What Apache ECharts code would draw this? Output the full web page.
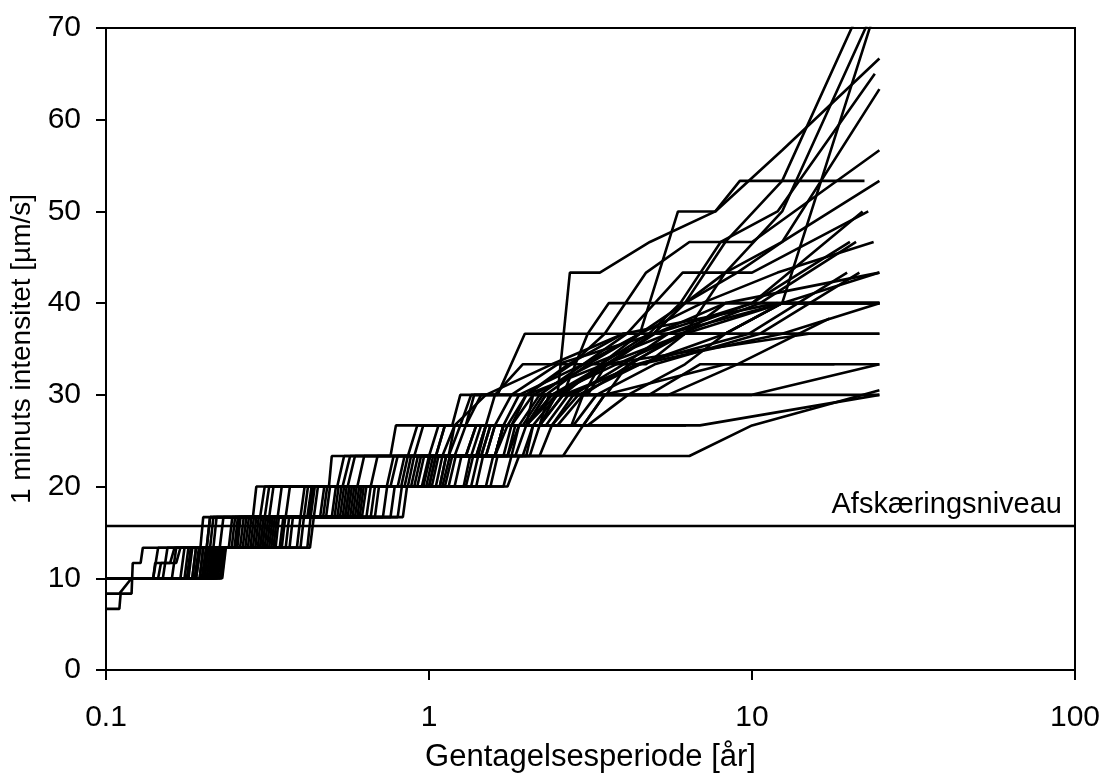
<!DOCTYPE html>
<html>
<head>
<meta charset="utf-8">
<script src="https://cdn.jsdelivr.net/npm/echarts@6/dist/echarts.min.js"></script>
<style>
html,body{margin:0;padding:0;background:#fff;}
#chart{width:1104px;height:774px;}
</style>
</head>
<body>
<div id="chart"></div>
<script>
// Return period [years] vs 1-minute intensity [µm/s], one array per station: [T, intensity]
const station01 = [[0.1,6.67],[0.11,6.67],[0.111,8.33],[0.12,8.33],[0.121,11.67],[0.128,11.67],[0.13,13.33],[0.196,13.33],[0.2,16.67],[0.285,16.67],[0.292,20],[0.49,20],[0.5,23.33],[0.76,23.33],[0.79,26.67],[6.25,26.67]];
const station02 = [[0.1,8.33],[0.11,8.33],[0.12,10],[0.14,10],[0.145,13.33],[0.205,13.33],[0.21,16.67],[0.31,16.67],[0.32,20],[0.54,20],[0.57,23.33],[1.05,23.33],[1.12,26.67],[2.2,26.67],[2.35,30],[4.8,30],[6.9,33.33],[18,33.33]];
const station03 = [[0.1,10],[0.2,10],[0.206,13.33],[0.3,13.33],[0.308,16.67],[0.55,16.67],[0.567,20],[1.15,20],[1.21,23.33],[1.75,23.33],[1.85,26.67],[2.2,26.67],[2.48,30],[3.1,30],[3.54,33.33],[4.96,36.67],[6.2,40],[8.27,46.67],[12.4,53.33],[24.8,76.67]];
const station04 = [[0.1,10],[0.19,10],[0.196,13.33],[0.28,13.33],[0.287,16.67],[0.5,16.67],[0.515,20],[1.02,20],[1.07,23.33],[1.6,23.33],[1.7,26.67],[1.95,26.67],[2.25,30],[3.54,30],[4.13,33.33],[6.2,36.67],[8.27,43.33],[12.4,50],[24.8,73.33]];
const station05 = [[0.1,10],[0.175,10],[0.18,13.33],[0.25,13.33],[0.256,16.67],[0.42,16.67],[0.433,20],[0.88,20],[0.924,23.33],[1.45,23.33],[1.55,26.67],[3.1,26.67],[4.13,30],[6.2,33.33],[8.27,36.67],[12.4,40],[24.8,73.33]];
const station06 = [[0.1,10],[0.215,10],[0.221,13.33],[0.33,13.33],[0.338,16.67],[0.6,16.67],[0.618,20],[1.3,20],[1.37,23.33],[1.6,23.33],[1.7,26.67],[2.0,26.67],[2.1,30],[2.5,30],[2.73,43.33],[3.38,43.33],[4.83,46.67],[7.7,50],[12.4,56.67],[24.8,66.67]];
const station07 = [[0.1,10],[0.222,10],[0.228,13.33],[0.37,13.33],[0.379,16.67],[0.68,16.67],[0.7,20],[1.4,20],[1.47,23.33],[2.0,23.33],[2.1,26.67],[2.76,26.67],[3.0,30],[3.4,33.33],[4.5,36.67],[5.9,50],[7.7,50],[9.17,53.33],[22.3,53.33]];
const station08 = [[0.1,10],[0.205,10],[0.211,13.33],[0.31,13.33],[0.318,16.67],[0.56,16.67],[0.577,20],[1.1,20],[1.16,23.33],[1.6,23.33],[1.75,26.67],[2.2,26.67],[2.6,30],[3.4,33.33],[4.8,36.67],[6.0,40],[8.0,46.67],[12.0,50],[24.0,65]];
const station09 = [[0.1,10],[0.21,10],[0.216,13.33],[0.32,13.33],[0.328,16.67],[0.58,16.67],[0.597,20],[1.0,20],[1.05,23.33],[1.4,23.33],[1.5,26.67],[2.0,26.67],[2.48,30],[3.54,33.33],[4.96,36.67],[6.2,40],[8.27,43.33],[12.4,46.67],[24.8,63.33]];
const station10 = [[0.1,10],[0.2,10],[0.206,13.33],[0.295,13.33],[0.302,16.67],[0.53,16.67],[0.546,20],[0.95,20],[1.0,23.33],[1.3,23.33],[1.4,26.67],[1.8,26.67],[2.0,30],[2.76,33.33],[3.5,36.67],[4.7,43.33],[6.4,46.67],[10,46.67],[24.8,56.67]];
const station11 = [[0.1,10],[0.195,10],[0.2,13.33],[0.285,13.33],[0.292,16.67],[0.51,16.67],[0.525,20],[0.96,20],[1.01,23.33],[1.5,23.33],[1.6,26.67],[2.0,26.67],[2.3,30],[3.1,33.33],[4.5,36.67],[6.2,40],[9.0,43.33],[12.4,46.67],[24.8,53.33]];
const station12 = [[0.1,10],[0.212,10],[0.218,13.33],[0.345,13.33],[0.354,16.67],[0.62,16.67],[0.64,20],[1.2,20],[1.26,23.33],[1.42,23.33],[1.5,26.67],[1.9,26.67],[2.2,30],[3.0,33.33],[4.1,36.67],[6.1,43.33],[10,43.33],[22.9,50]];
const station13 = [[0.1,10],[0.218,10],[0.224,13.33],[0.35,13.33],[0.359,16.67],[0.64,16.67],[0.66,20],[1.28,20],[1.34,23.33],[1.8,23.33],[1.9,26.67],[2.4,26.67],[2.8,30],[4.0,33.33],[5.5,36.67],[10,40],[22,50]];
const station14 = [[0.1,10],[0.185,10],[0.19,13.33],[0.26,13.33],[0.267,16.67],[0.44,16.67],[0.453,20],[0.84,20],[0.88,23.33],[1.2,23.33],[1.3,26.67],[1.7,26.67],[1.9,30],[3.0,33.33],[4.5,36.67],[7.0,40],[12.0,43.33],[23.8,46.67]];
const station15 = [[0.1,10],[0.208,10],[0.214,13.33],[0.305,13.33],[0.313,16.67],[0.54,16.67],[0.556,20],[1.0,20],[1.05,23.33],[1.6,23.33],[1.7,26.67],[2.1,26.67],[2.5,30],[3.6,33.33],[5.0,36.67],[10,40],[20.1,46.67]];
const station16 = [[0.1,10],[0.225,10],[0.231,13.33],[0.39,13.33],[0.4,16.67],[0.72,16.67],[0.742,20],[1.5,20],[1.58,23.33],[1.85,23.33],[2.0,26.67],[2.5,26.67],[3.0,30],[4.2,33.33],[6.0,36.67],[10.6,40],[21,46.67]];
const station17 = [[0.1,10],[0.18,10],[0.185,13.33],[0.255,13.33],[0.261,16.67],[0.43,16.67],[0.443,20],[0.8,20],[0.84,23.33],[1.35,23.33],[1.45,26.67],[1.8,26.67],[2.1,30],[3.2,33.33],[5.5,36.67],[12.4,40],[24.8,43.33]];
const station18 = [[0.1,10],[0.226,10],[0.232,13.33],[0.4,13.33],[0.41,16.67],[0.76,16.67],[0.783,20],[1.55,20],[1.63,23.33],[2.05,23.33],[2.2,26.67],[2.8,26.67],[3.3,30],[5.0,33.33],[10.6,36.67],[21.5,43.33]];
const station19 = [[0.1,10],[0.19,10],[0.196,13.33],[0.275,13.33],[0.282,16.67],[0.48,16.67],[0.494,20],[0.9,20],[0.945,23.33],[1.7,23.33],[1.8,26.67],[2.3,26.67],[2.7,30],[4.4,33.33],[9.8,36.67],[19.7,43.33]];
const station20 = [[0.1,10],[0.145,10],[0.148,11.67],[0.165,11.67],[0.17,13.33],[0.225,13.33],[0.231,16.67],[0.36,16.67],[0.371,20],[0.66,20],[0.693,23.33],[1.15,23.33],[1.25,26.67],[1.5,26.67],[1.6,30],[2.6,30],[3.1,36.67],[3.6,40],[24.8,40]];
const station21 = [[0.1,10],[0.198,10],[0.204,13.33],[0.29,13.33],[0.297,16.67],[0.52,16.67],[0.536,20],[0.98,20],[1.03,23.33],[1.5,23.33],[1.6,26.67],[2.0,26.67],[2.4,30],[3.5,33.33],[6.2,36.67],[8.27,40],[24.8,40]];
const station22 = [[0.1,10],[0.215,10],[0.221,13.33],[0.335,13.33],[0.343,16.67],[0.61,16.67],[0.628,20],[1.12,20],[1.18,23.33],[1.75,23.33],[1.9,26.67],[2.4,26.67],[2.9,30],[4.5,33.33],[8.27,36.67],[12.4,40],[24.8,40]];
const station23 = [[0.1,10],[0.228,10],[0.234,13.33],[0.42,13.33],[0.43,16.67],[0.8,16.67],[0.824,20],[1.7,20],[1.8,23.33],[2.2,23.33],[2.4,26.67],[3.0,26.67],[3.5,30],[5.5,30],[9.0,33.33],[17.4,38.33]];
const station24 = [[0.1,10],[0.17,10],[0.175,13.33],[0.24,13.33],[0.246,16.67],[0.4,16.67],[0.412,20],[0.74,20],[0.777,23.33],[1.1,23.33],[1.2,26.67],[1.3,26.67],[1.38,30],[1.63,30],[1.98,36.67],[24.8,36.67]];
const station25 = [[0.1,10],[0.178,10],[0.183,13.33],[0.245,13.33],[0.251,16.67],[0.41,16.67],[0.422,20],[0.76,20],[0.8,23.33],[1.05,23.33],[1.12,26.67],[1.25,26.67],[1.35,30],[1.6,30],[1.95,33.33],[4.7,33.33],[6.2,36.67],[12.4,36.67],[24.8,40]];
const station26 = [[0.1,10],[0.188,10],[0.194,13.33],[0.265,13.33],[0.272,16.67],[0.46,16.67],[0.474,20],[0.86,20],[0.9,23.33],[1.4,23.33],[1.5,26.67],[2.0,26.67],[2.3,30],[10,30],[24.8,33.33]];
const station27 = [[0.1,10],[0.229,10],[0.235,13.33],[0.428,13.33],[0.44,16.67],[0.83,16.67],[0.855,20],[1.75,20],[1.9,23.33],[6.4,23.33],[10,26.67],[24.8,30.5]];
const station28 = [[0.1,10],[0.212,10],[0.218,13.33],[0.325,13.33],[0.333,16.67],[0.59,16.67],[0.608,20],[1.08,20],[1.13,23.33],[2.6,23.33],[3.0,26.67],[6.9,26.67],[24.8,30]];
const station29 = [[0.1,10],[0.16,10],[0.165,13.33],[0.215,13.33],[0.22,16.67],[0.34,16.67],[0.35,20],[0.6,20],[0.63,23.33],[0.86,23.33],[0.92,26.67],[1.18,26.67],[1.25,30],[24.8,30]];
const station30 = [[0.1,10],[0.202,10],[0.208,13.33],[0.3,13.33],[0.308,16.67],[0.55,16.67],[0.567,20],[1.05,20],[1.1,23.33],[1.3,23.33],[1.4,26.67],[1.75,26.67],[2.0,30],[2.7,33.33],[4.0,36.67],[8.27,36.67],[12.4,40],[24.8,40]];
const station31 = [[0.1,10],[0.195,10],[0.2,13.33],[0.27,13.33],[0.277,16.67],[0.47,16.67],[0.484,20],[0.92,20],[0.966,23.33],[1.6,23.33],[1.7,26.67],[2.2,26.67],[2.6,30],[4.5,33.33],[12.4,36.67],[24.8,36.67]];
const station32 = [[0.1,10],[0.22,10],[0.226,13.33],[0.36,13.33],[0.369,16.67],[0.66,16.67],[0.68,20],[1.35,20],[1.42,23.33],[1.95,23.33],[2.1,26.67],[3.0,26.67],[3.5,30],[8.27,33.33],[24.8,33.33]];
const station33 = [[0.1,10],[0.205,10],[0.211,13.33],[0.315,13.33],[0.323,16.67],[0.57,16.67],[0.587,20],[1.08,20],[1.13,23.33],[1.15,23.33],[1.2,26.67],[1.6,26.67],[1.8,30],[2.5,33.33],[5.0,36.67],[8.27,40],[24.8,43.33]];
const station34 = [[0.1,10],[0.185,10],[0.19,13.33],[0.252,13.33],[0.258,16.67],[0.425,16.67],[0.438,20],[0.82,20],[0.86,23.33],[1.45,23.33],[1.55,26.67],[2.0,26.67],[2.4,30],[3.8,33.33],[6.2,36.67],[12.4,40],[24.8,40]];
const station35 = [[0.1,10],[0.15,10],[0.155,13.33],[0.205,13.33],[0.21,16.67],[0.3,16.67],[0.31,20],[0.52,20],[0.546,23.33],[0.9,23.33],[0.96,26.67],[1.2,26.67],[1.5,30],[2.4,33.33],[4.0,36.67],[12,40]];
const station36 = [[0.1,10],[0.14,10],[0.142,11.67],[0.158,11.67],[0.163,13.33],[0.21,13.33],[0.215,16.67],[0.32,16.67],[0.33,20],[0.56,20],[0.59,23.33],[1.0,23.33],[1.07,26.67],[1.3,26.67],[1.45,30],[2.0,30],[3.5,33.33],[15,36.67]];

const cutoffLevel = 15.75;
const cutoffLabel = 'Afskæringsniveau';
const xAxisTitle = 'Gentagelsesperiode [år]';
const yAxisTitle = '1 minuts intensitet [\u00b5m/s]';

const stations = [station01,station02,station03,station04,station05,station06,station07,station08,station09,station10,
  station11,station12,station13,station14,station15,station16,station17,station18,station19,station20,
  station21,station22,station23,station24,station25,station26,station27,station28,station29,station30,
  station31,station32,station33,station34,station35,station36];

const FONT = "'Liberation Sans', Arial, sans-serif";
const chart = echarts.init(document.getElementById('chart'), null, {renderer:'canvas'});

const series = stations.map(function(d){
  return {
    type:'line', data:d, showSymbol:false, symbol:'none', silent:true, animation:false,
    lineStyle:{color:'#000', width:2.6}, clip:true, z:2
  };
});
series.push({
  type:'line', data:[], silent:true, animation:false,
  markLine:{
    silent:true, symbol:['none','none'], animation:false,
    lineStyle:{color:'#000', width:2.4, type:'solid'},
    label:{show:true, position:'insideEndTop', formatter:cutoffLabel, color:'#000', fontSize:29, fontFamily:FONT, distance:[13,6]},
    data:[{yAxis:cutoffLevel}]
  }
});

chart.setOption({
  animation:false,
  backgroundColor:'#fff',
  grid:{left:106, right:29, top:28, bottom:104, show:true, borderColor:'#000', borderWidth:2, outerBoundsMode:'none', containLabel:false},
  xAxis:{
    type:'log', logBase:10, min:0.1, max:100,
    name:xAxisTitle, nameLocation:'middle', nameGap:72,
    nameTextStyle:{color:'#000', fontSize:31, fontFamily:FONT},
    axisLine:{show:true, lineStyle:{color:'#000', width:2}},
    axisTick:{show:true, length:10, inside:false, lineStyle:{color:'#000', width:2}},
    minorTick:{show:false},
    axisLabel:{color:'#000', fontSize:30, fontFamily:FONT, margin:33,
      formatter:function(v){ return String(v); }},
    splitLine:{show:false}
  },
  yAxis:{
    type:'value', min:0, max:70, interval:10,
    name:yAxisTitle, nameLocation:'middle', nameGap:63, nameRotate:90,
    nameTextStyle:{color:'#000', fontSize:28, fontFamily:FONT},
    axisLine:{show:true, lineStyle:{color:'#000', width:2}},
    axisTick:{show:true, length:10, inside:false, lineStyle:{color:'#000', width:2}},
    axisLabel:{color:'#000', fontSize:30, fontFamily:FONT, margin:25},
    splitLine:{show:false}
  },
  series:series
});
</script>
</body>
</html>
